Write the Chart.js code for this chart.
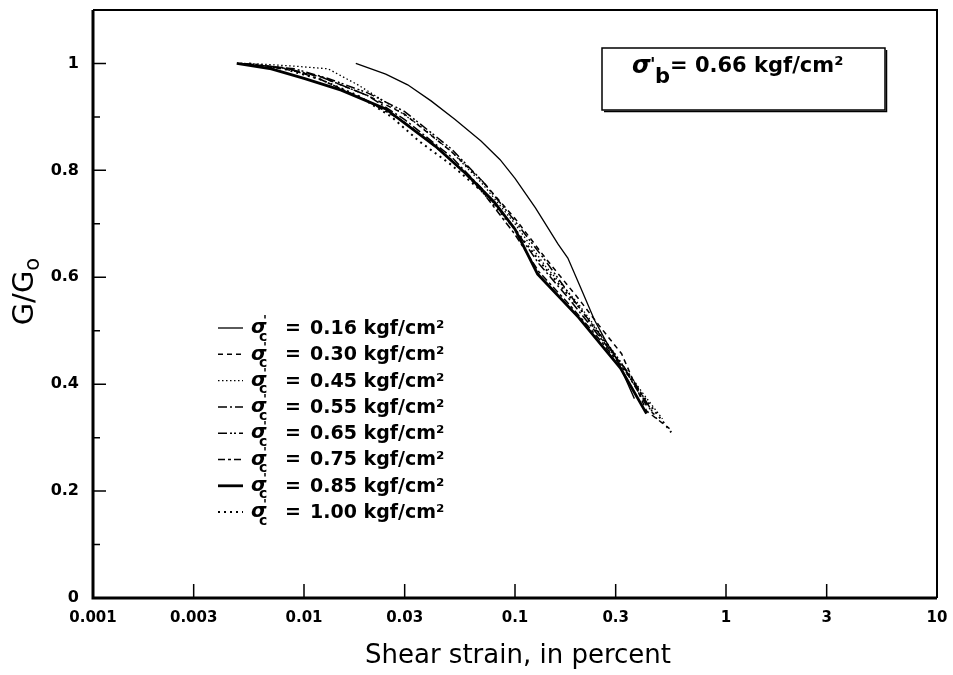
<!DOCTYPE html>
<html><head><meta charset="utf-8">
<script src="https://cdn.jsdelivr.net/npm/chart.js@4.4.1/dist/chart.umd.min.js"></script>
<style>html,body{margin:0;padding:0;background:#fff}#wrap{width:953px;height:675px}</style>
</head><body><div id="wrap"><canvas id="c" width="953" height="675"></canvas></div>
<script>
// ---------- data ----------
const seriesLabels = ['0.16','0.30','0.45','0.55','0.65','0.75','0.85','1.00'];

const strain016 = [0.0176,0.0244,0.031,0.04,0.052,0.069,0.085,0.1,0.125,0.16,0.178,0.205,0.238,0.27,0.306,0.368];
const ratio016  = [1.0,0.98,0.96,0.93,0.895,0.855,0.82,0.785,0.73,0.662,0.636,0.58,0.52,0.48,0.444,0.373];

const strain030 = [0.005,0.008,0.012,0.02,0.03,0.05,0.07,0.1,0.14,0.2,0.25,0.32,0.42,0.54];
const ratio030  = [1.0,0.99,0.975,0.94,0.905,0.835,0.78,0.71,0.635,0.56,0.51,0.457,0.35,0.317];

const strain045 = [0.0055,0.009,0.013,0.018,0.025,0.035,0.05,0.07,0.1,0.14,0.2,0.3,0.4,0.5];
const ratio045  = [1.0,0.995,0.99,0.96,0.925,0.885,0.835,0.775,0.70,0.62,0.55,0.455,0.385,0.335];

const strain055 = [0.005,0.008,0.012,0.02,0.03,0.05,0.07,0.1,0.13,0.18,0.25,0.33,0.45];
const ratio055  = [1.0,0.992,0.975,0.94,0.895,0.825,0.765,0.69,0.625,0.56,0.49,0.43,0.345];

const strain065 = [0.0052,0.009,0.013,0.02,0.03,0.05,0.07,0.1,0.14,0.2,0.28,0.36,0.47];
const ratio065  = [1.0,0.99,0.972,0.945,0.91,0.84,0.78,0.705,0.63,0.545,0.47,0.41,0.335];

const strain075 = [0.005,0.0085,0.012,0.02,0.03,0.05,0.07,0.1,0.13,0.18,0.25,0.34,0.42];
const ratio075  = [1.0,0.99,0.97,0.93,0.89,0.82,0.76,0.68,0.61,0.55,0.485,0.42,0.36];

const strain085 = [0.0048,0.007,0.01,0.015,0.0244,0.042,0.06,0.08,0.1,0.128,0.2,0.316,0.42];
const ratio085  = [1.0,0.99,0.972,0.95,0.915,0.845,0.79,0.74,0.69,0.606,0.525,0.43,0.345];

const strain100 = [0.0055,0.008,0.012,0.018,0.026,0.035,0.05,0.07,0.1,0.14,0.2,0.3,0.4,0.55];
const ratio100  = [1.0,0.99,0.97,0.94,0.90,0.855,0.81,0.76,0.69,0.615,0.545,0.45,0.38,0.31];

const xTickValues = [0.001,0.003,0.01,0.03,0.1,0.3,1,3,10];
const xTickLabels = ['0.001','0.003','0.01','0.03','0.1','0.3','1','3','10'];
const yTickValues = [0,0.2,0.4,0.6,0.8,1];
const yTickLabels = ['0','0.2','0.4','0.6','0.8','1'];
const yMinorValues = [0.1,0.3,0.5,0.7,0.9];

// ---------- styles ----------
const seriesStrains = [strain016,strain030,strain045,strain055,strain065,strain075,strain085,strain100];
const seriesRatios  = [ratio016,ratio030,ratio045,ratio055,ratio065,ratio075,ratio085,ratio100];
const lineWidths = [1.3,1.5,1.3,1.5,1.5,1.5,2.8,2.0];
const dashes = [[],[5,4],[1.5,2.5],[9,3,2,3],[9,3,2,2,2,3],[7,3,3,3],[],[2,4]];

const datasets = seriesLabels.map((lab,i)=>({
  label: lab,
  data: seriesStrains[i].map((x,j)=>({x:x,y:seriesRatios[i][j]})),
  borderColor:'#000',
  borderWidth: lineWidths[i],
  borderDash: dashes[i],
  pointRadius:0,
  tension:0,
  fill:false
}));

const F = '"DejaVu Sans", "Liberation Sans", Arial, sans-serif';

function zeroPad(s){ s.paddingLeft = 0; s.paddingRight = 0; s.paddingTop = 0; s.paddingBottom = 0; }

const decor = {
  id:'decor',
  afterDraw(chart){
    const ctx = chart.ctx, a = chart.chartArea, xs = chart.scales.x, ys = chart.scales.y;
    ctx.save();
    ctx.strokeStyle = '#000'; ctx.fillStyle = '#000';
    // frame
    ctx.lineWidth = 2;
    ctx.beginPath();
    ctx.moveTo(a.left, a.top); ctx.lineTo(a.right, a.top); ctx.lineTo(a.right, a.bottom);
    ctx.stroke();
    ctx.lineWidth = 3;
    ctx.beginPath();
    ctx.moveTo(a.left, a.top); ctx.lineTo(a.left, a.bottom); ctx.lineTo(a.right, a.bottom);
    ctx.stroke();
    // ticks
    ctx.lineWidth = 1.5;
    ctx.beginPath();
    xTickValues.forEach(v=>{
      const px = xs.getPixelForValue(v);
      if (px <= a.left+2 || px >= a.right-2) return;
      ctx.moveTo(px, a.bottom); ctx.lineTo(px, a.bottom-14);
    });
    yTickValues.forEach(v=>{
      const py = ys.getPixelForValue(v);
      if (py >= a.bottom-2) return;
      ctx.moveTo(a.left, py); ctx.lineTo(a.left+13, py);
    });
    yMinorValues.forEach(v=>{
      const py = ys.getPixelForValue(v);
      ctx.moveTo(a.left, py); ctx.lineTo(a.left+7, py);
    });
    ctx.stroke();

    // x title
    ctx.font = '26px ' + F;
    ctx.textAlign = 'center'; ctx.textBaseline = 'middle';
    ctx.fillText('Shear strain, in percent', (a.left+a.right)/2 + 3, 656);

    // y title  G/Go rotated
    ctx.save();
    ctx.translate(25, 292);
    ctx.rotate(-Math.PI/2);
    ctx.textAlign = 'left'; ctx.textBaseline = 'middle';
    ctx.font = '29px ' + F;
    const gw = ctx.measureText('G/G').width;
    ctx.fillText('G/G', -gw/2 - 6, 0);
    ctx.font = '21px ' + F;
    ctx.fillText('o', gw/2 - 6, 9);
    ctx.restore();

    // legend
    const lx0 = 218, lx1 = 243, ly0 = 328, dy = 26.3;
    seriesLabels.forEach((lab,i)=>{
      const y = ly0 + dy*i;
      ctx.lineWidth = lineWidths[i];
      ctx.setLineDash(dashes[i]);
      ctx.beginPath(); ctx.moveTo(lx0, y); ctx.lineTo(lx1, y); ctx.stroke();
      ctx.setLineDash([]);
      ctx.textAlign = 'left'; ctx.textBaseline = 'middle';
      ctx.font = 'italic bold 20px ' + F;
      ctx.fillText('σ', 251, y);
      ctx.font = 'bold 13px ' + F;
      ctx.fillText("'", 263, y - 7);
      ctx.font = 'bold 14px ' + F;
      ctx.fillText('c', 259, y + 9);
      ctx.font = 'bold 19px ' + F;
      ctx.fillText('=', 285, y + 1);
      ctx.fillText(lab + ' kgf/cm²', 310, y + 1);
    });

    // info box
    const bx0 = 602, by0 = 48, bx1 = 885, by1 = 110;
    ctx.lineWidth = 1.5;
    ctx.strokeRect(bx0, by0, bx1-bx0, by1-by0);
    ctx.beginPath(); ctx.moveTo(bx1+1.5, by0+2); ctx.lineTo(bx1+1.5, by1+1.5); ctx.lineTo(bx0+2, by1+1.5); ctx.stroke();
    ctx.textAlign = 'left'; ctx.textBaseline = 'alphabetic';
    ctx.font = 'italic bold 24px ' + F;
    ctx.fillText('σ', 632, 73);
    ctx.font = 'bold 18px ' + F;
    ctx.fillText("'", 650, 70);
    ctx.font = 'bold 21px ' + F;
    ctx.fillText('b', 655, 83);
    ctx.fillText('= 0.66 kgf/cm²', 670, 72);
    ctx.restore();
  }
};

new Chart(document.getElementById('c'), {
  type:'line',
  data:{datasets},
  options:{
    responsive:false, animation:false, devicePixelRatio:1,
    layout:{padding:{top:10,right:16,left:0,bottom:0}},
    plugins:{legend:{display:false}, tooltip:{enabled:false}},
    scales:{
      x:{
        type:'logarithmic', min:0.001, max:10,
        afterBuildTicks:s=>{ s.ticks = xTickValues.map(v=>({value:v})); },
        afterFit:s=>{ s.height = 77; zeroPad(s); },
        grid:{display:false, drawTicks:false},
        border:{display:false},
        ticks:{
          autoSkip:false, maxRotation:0, minRotation:0, padding:11, color:'#000',
          font:{family:'DejaVu Sans', weight:'bold', size:15},
          callback:(v)=>{ const i = xTickValues.findIndex(t=>Math.abs(t-v)/t<1e-6); return i>=0 ? xTickLabels[i] : ''; }
        }
      },
      y:{
        type:'linear', min:0, max:1.1,
        afterBuildTicks:s=>{ s.ticks = yTickValues.map(v=>({value:v})); },
        afterFit:s=>{ s.width = 93; zeroPad(s); },
        grid:{display:false, drawTicks:false},
        border:{display:false},
        ticks:{
          padding:14, color:'#000',
          font:{family:'DejaVu Sans', weight:'bold', size:16},
          callback:(v)=>{ const i = yTickValues.findIndex(t=>Math.abs(t-v)<1e-9); return i>=0 ? yTickLabels[i] : ''; }
        }
      }
    }
  },
  plugins:[decor]
});
</script>
</body></html>
